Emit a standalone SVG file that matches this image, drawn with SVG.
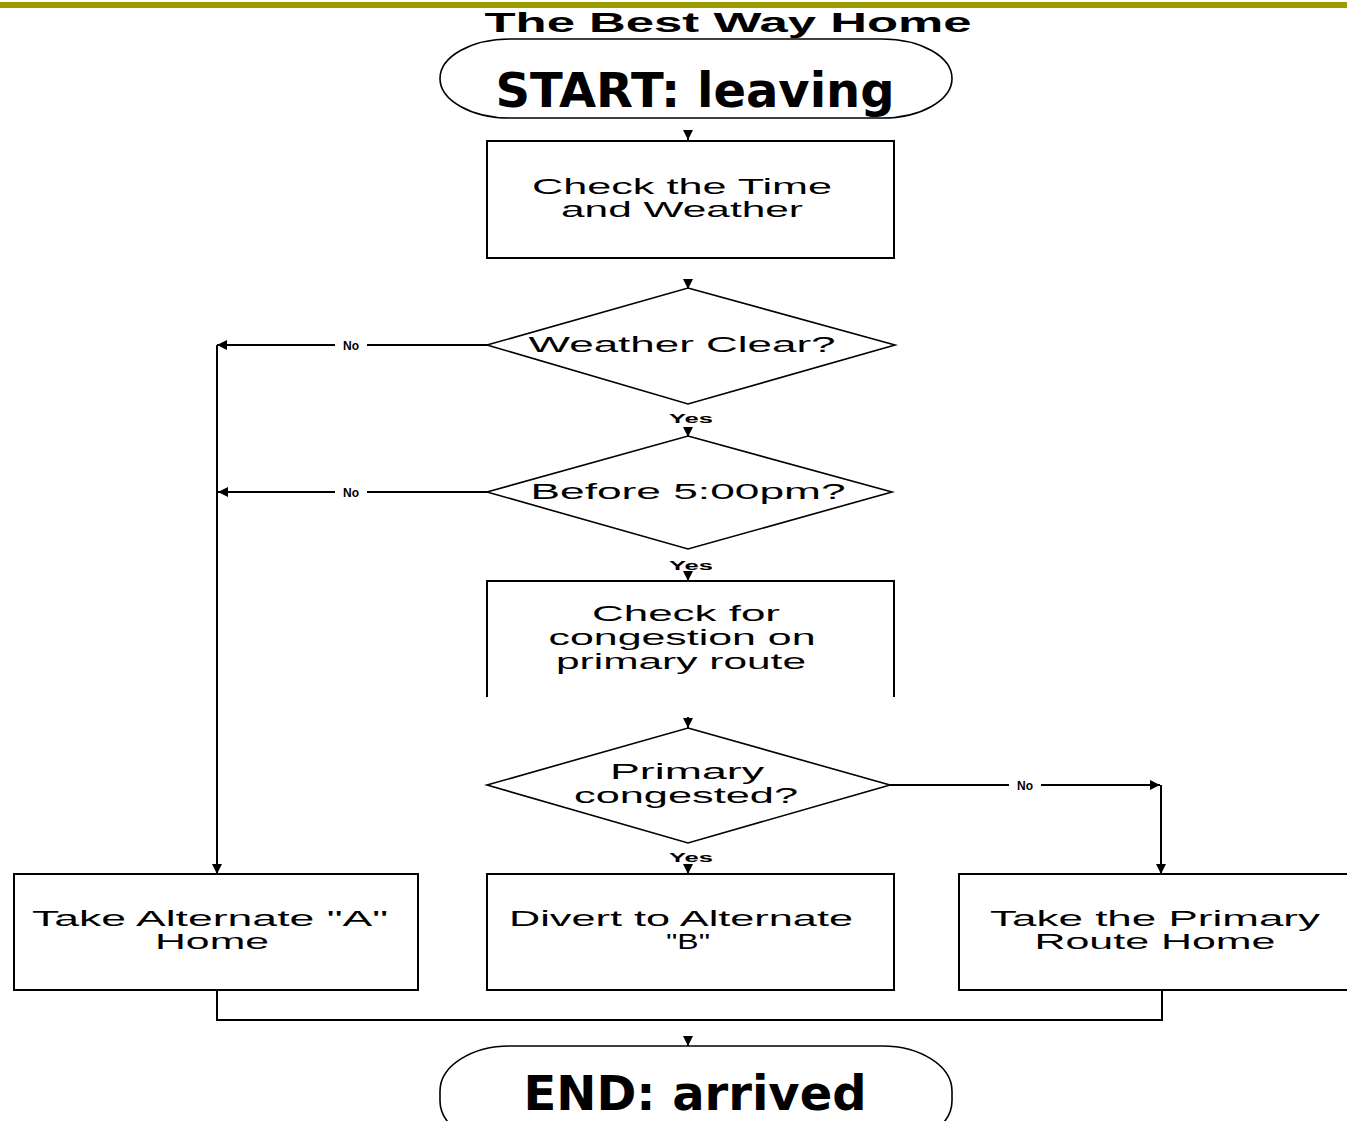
<svg xmlns="http://www.w3.org/2000/svg" width="1347" height="1121" viewBox="0 0 1347 1121">
  <style>
    .box { fill: #fff; stroke: #000; stroke-width: 2; }
    .dia { fill: #fff; stroke: #000; stroke-width: 1.6; }
    .term { fill: #fff; stroke: #000; stroke-width: 1.6; }
    .wire { fill: none; stroke: #000; stroke-width: 2; }
    .lbl { font-family: "Liberation Sans", Arial, sans-serif; font-size: 22px; fill: #000; text-anchor: middle; }
    .small { font-family: "Liberation Sans", Arial, sans-serif; font-size: 12px; font-weight: bold; fill: #000; text-anchor: middle; }
    .big { font-family: "DejaVu Sans", Verdana, sans-serif; font-size: 48px; font-weight: bold; fill: #000; text-anchor: middle; }
    .title { font-family: "Liberation Sans", Arial, sans-serif; font-size: 27px; font-weight: bold; fill: #000; text-anchor: middle; }
  </style>
  <defs>
    <marker id="tip" viewBox="0 0 10 10" refX="10" refY="5" markerWidth="10" markerHeight="11" markerUnits="userSpaceOnUse" orient="auto">
      <path d="M0,0 L10,5 L0,10 z" fill="#000"/>
    </marker>
  </defs>

  <rect width="1347" height="1121" fill="#fff"/>
  <!-- header rule -->
  <rect x="0" y="2" width="1347" height="6" fill="#9c9c00"/>
  <text class="title" x="728" y="32" textLength="487" lengthAdjust="spacingAndGlyphs">The Best Way Home</text>

  <!-- connectors -->
  <g id="connectors">
    <!-- short stubs with heads on the main column -->
    <line class="wire" x1="688" y1="130" x2="688" y2="140" marker-end="url(#tip)"/>
    <line class="wire" x1="688" y1="279" x2="688" y2="289" marker-end="url(#tip)"/>
    <line class="wire" x1="688" y1="428" x2="688" y2="437" marker-end="url(#tip)"/>
    <line class="wire" x1="688" y1="573" x2="688" y2="581" marker-end="url(#tip)"/>
    <line class="wire" x1="688" y1="717" x2="688" y2="728" marker-end="url(#tip)"/>
    <line class="wire" x1="688" y1="866" x2="688" y2="874" marker-end="url(#tip)"/>
    <line class="wire" x1="688" y1="1037" x2="688" y2="1046" marker-end="url(#tip)"/>
    <!-- No branches to Alternate A -->
    <line class="wire" x1="217" y1="345" x2="217" y2="874" marker-end="url(#tip)"/>
    <line class="wire" x1="487" y1="345" x2="217" y2="345" marker-end="url(#tip)"/>
    <line class="wire" x1="487" y1="492" x2="218" y2="492" marker-end="url(#tip)"/>
    <!-- No branch to primary route -->
    <line class="wire" x1="890" y1="785" x2="1160" y2="785" marker-end="url(#tip)"/>
    <line class="wire" x1="1161" y1="785" x2="1161" y2="874" marker-end="url(#tip)"/>
    <!-- merge below the three routes -->
    <polyline class="wire" points="217,990 217,1020 1162,1020 1162,990"/>
    <!-- branch labels -->
    <rect x="335" y="338" width="32" height="14" fill="#fff"/>
    <text class="small" x="351" y="350">No</text>
    <rect x="335" y="485" width="32" height="14" fill="#fff"/>
    <text class="small" x="351" y="497">No</text>
    <rect x="1009" y="778" width="32" height="14" fill="#fff"/>
    <text class="small" x="1025" y="790">No</text>
    <text class="small" x="691" y="423" textLength="44" lengthAdjust="spacingAndGlyphs">Yes</text>
    <text class="small" x="691" y="570" textLength="44" lengthAdjust="spacingAndGlyphs">Yes</text>
    <text class="small" x="691" y="862" textLength="44" lengthAdjust="spacingAndGlyphs">Yes</text>
  </g>

  <g id="start">
    <rect class="term" x="440" y="39" width="512" height="79" rx="70" ry="39.5"/>
    <text class="big" x="695" y="107">START: leaving</text>
  </g>

  <g id="check-time">
    <rect class="box" x="487" y="141" width="407" height="117"/>
    <text class="lbl" x="682" y="194" textLength="300" lengthAdjust="spacingAndGlyphs">Check the Time</text>
    <text class="lbl" x="682" y="217" textLength="242" lengthAdjust="spacingAndGlyphs">and Weather</text>
  </g>

  <g id="weather-clear">
    <polygon class="dia" points="688,288 895,345 688,404 487,345"/>
    <text class="lbl" x="682" y="352" textLength="307" lengthAdjust="spacingAndGlyphs">Weather Clear?</text>
  </g>

  <g id="before-five">
    <polygon class="dia" points="688,436 892,492 688,549 487,492"/>
    <text class="lbl" x="688" y="499" textLength="315" lengthAdjust="spacingAndGlyphs">Before 5:00pm?</text>
  </g>

  <g id="check-congestion">
    <path class="box" d="M487,697 L487,581 L894,581 L894,697"/>
    <text class="lbl" x="686" y="621" textLength="188" lengthAdjust="spacingAndGlyphs">Check for</text>
    <text class="lbl" x="682" y="645" textLength="267" lengthAdjust="spacingAndGlyphs">congestion on</text>
    <text class="lbl" x="681" y="669" textLength="250" lengthAdjust="spacingAndGlyphs">primary route</text>
  </g>

  <g id="primary-congested">
    <polygon class="dia" points="688,728 890,785 688,843 487,785"/>
    <text class="lbl" x="687" y="779" textLength="154" lengthAdjust="spacingAndGlyphs">Primary</text>
    <text class="lbl" x="686" y="803" textLength="224" lengthAdjust="spacingAndGlyphs">congested?</text>
  </g>

  <g id="alternate-a">
    <rect class="box" x="14" y="874" width="404" height="116"/>
    <text class="lbl" x="210" y="926" textLength="356" lengthAdjust="spacingAndGlyphs">Take Alternate "A"</text>
    <text class="lbl" x="212" y="949" textLength="114" lengthAdjust="spacingAndGlyphs">Home</text>
  </g>

  <g id="alternate-b">
    <rect class="box" x="487" y="874" width="407" height="116"/>
    <text class="lbl" x="681" y="926" textLength="344" lengthAdjust="spacingAndGlyphs">Divert to Alternate</text>
    <text class="lbl" x="688" y="949" textLength="44" lengthAdjust="spacingAndGlyphs">"B"</text>
  </g>

  <g id="primary-route">
    <rect class="box" x="959" y="874" width="400" height="116"/>
    <text class="lbl" x="1155" y="926" textLength="330" lengthAdjust="spacingAndGlyphs">Take the Primary</text>
    <text class="lbl" x="1155" y="949" textLength="241" lengthAdjust="spacingAndGlyphs">Route Home</text>
  </g>

  <g id="end">
    <rect class="term" x="440" y="1046" width="512" height="100" rx="70" ry="45"/>
    <text class="big" x="695" y="1110">END: arrived</text>
  </g>
</svg>
